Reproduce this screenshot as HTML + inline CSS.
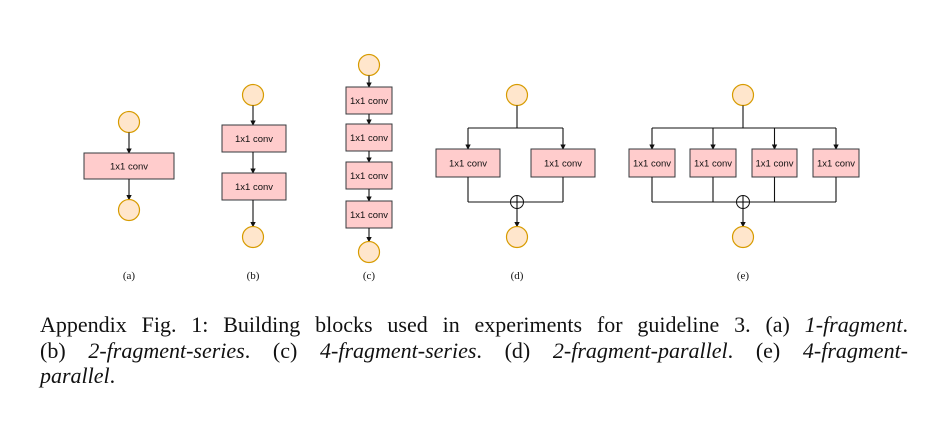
<!DOCTYPE html>
<html><head><meta charset="utf-8"><style>
body{margin:0;background:#fff;width:948px;height:432px;overflow:hidden;position:relative;font-family:"Liberation Serif",serif}
.cap{position:absolute;left:40px;width:868px;font-size:22px;line-height:22px;color:#111;white-space:nowrap}
.j{text-align:justify;text-align-last:justify;white-space:normal}
</style></head><body>
<svg id="d" width="948" height="300" style="position:absolute;left:0;top:0" xmlns="http://www.w3.org/2000/svg">
<defs><marker id="ar" viewBox="0 0 6 6" refX="5" refY="3" markerWidth="5" markerHeight="5" orient="auto"><path d="M0,0L6,3L0,6z" fill="#111"/></marker></defs>
<g id="g"></g>
</svg>
<div class="cap j" style="top:314px">Appendix Fig. 1: Building blocks used in experiments for guideline 3. (a) <i>1-fragment</i>.</div>
<div class="cap j" style="top:340px">(b) <i>2-fragment-series</i>. (c) <i>4-fragment-series</i>. (d) <i>2-fragment-parallel</i>. (e) <i>4-fragment-</i></div>
<div class="cap" style="top:365px"><i>parallel</i>.</div>
<script>
const g=document.getElementById('g');const NS='http://www.w3.org/2000/svg';
function mk(t,a,name){const e=document.createElementNS(NS,t);for(const k in a)e.setAttribute(k,a[k]);


g.appendChild(e);return e;}
function node(x,y,n){mk('circle',{cx:x,cy:y,r:10.5,fill:'#ffe6cc',stroke:'#d79b00','stroke-width':1.2},n);}
function box(x1,y1,x2,y2,n){mk('rect',{x:x1,y:y1,width:x2-x1,height:y2-y1,fill:'#ffcccc',stroke:'#36393d','stroke-width':1},n);
const t=mk('text',{x:(x1+x2)/2,y:(y1+y2)/2+3.5,'text-anchor':'middle','font-size':9.5,'font-family':'Liberation Sans, sans-serif',fill:'#111'},n+'-label');t.textContent='1x1 conv';}
function arr(x1,y1,x2,y2,n){mk('line',{x1,y1,x2,y2,stroke:'#111','stroke-width':1.1,'marker-end':'url(#ar)'},n);}
function ln(pts,n){mk('polyline',{points:pts,fill:'none',stroke:'#111','stroke-width':1.1},n);}
function lab(x,s,n){const t=mk('text',{x,y:279,'text-anchor':'middle','font-size':11,'font-family':'Liberation Serif, serif',fill:'#111'},n);t.textContent=s;}
function plus(x,y,n){mk('circle',{cx:x,cy:y,r:6.5,fill:'#fff',stroke:'#111','stroke-width':1},n);
ln(`${x-6.5},${y} ${x+6.5},${y}`,n+'-h');ln(`${x},${y-6.5} ${x},${y+6.5}`,n+'-v');}
node(129,122,'a-input');arr(129,132.5,129,153,'a-arrow-1');box(84,153,174,179,'a-conv');arr(129,179,129,199.5,'a-arrow-2');node(129,210,'a-output');lab(129,'(a)','label-a');
node(253,95,'b-input');arr(253,105.5,253,125,'b-arrow-1');box(222,125,286,152,'b-conv-1');arr(253,152,253,173,'b-arrow-2');box(222,173,286,200,'b-conv-2');arr(253,200,253,226.5,'b-arrow-3');node(253,237,'b-output');lab(253,'(b)','label-b');
node(369,65,'c-input');const cy=[[87,114],[124,151],[162,189],[201,228]];let prev=75.5;
cy.forEach((c,i)=>{arr(369,prev,369,c[0],'c-arrow-'+i);box(346,c[0],392,c[1],'c-conv-'+(i+1));prev=c[1];});
arr(369,prev,369,241.5,'c-arrow-out');node(369,252,'c-output');lab(369,'(c)','label-c');
function par(cx,boxes,p){node(cx,95,p+'-input');ln(`${cx},105.5 ${cx},128`,p+'-stem');
const xs=boxes.map(b=>(b[0]+b[1])/2);ln(`${xs[0]},128 ${xs[xs.length-1]},128`,p+'-split');
boxes.forEach((b,i)=>{arr(xs[i],128,xs[i],149,p+'-arrow-'+i);box(b[0],149,b[1],177,p+'-conv-'+(i+1));ln(`${xs[i]},177 ${xs[i]},202`,p+'-drop-'+i);});
ln(`${xs[0]},202 ${xs[xs.length-1]},202`,p+'-merge');plus(cx,202,p+'-add');arr(cx,208.5,cx,226.5,p+'-arrow-out');node(cx,237,p+'-output');}
par(517,[[436,500],[531,595]],'d');lab(517,'(d)','label-d');
par(743,[[629,675],[690,736],[752,797],[813,859]],'e');lab(743,'(e)','label-e');
</script>
</body></html>
